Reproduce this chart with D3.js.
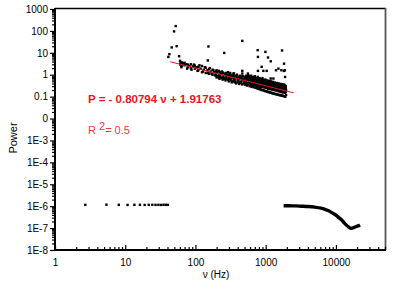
<!DOCTYPE html>
<html>
<head>
<meta charset="utf-8">
<script src="https://cdn.jsdelivr.net/npm/d3@7"></script>
<style>
  body { margin: 0; background: #fff; }
  svg text { font-family: "Liberation Sans", Arial, sans-serif; }
</style>
</head>
<body>
<div id="chart"></div>
<script>
// tick values and labels
const yTicks = [1000, 100, 10, 1, 0.1, 0.01, 1e-3, 1e-4, 1e-5, 1e-6, 1e-7, 1e-8];
const yLabels = ["1000", "100", "10", "1", "0.1", "0", "1E-3", "1E-4", "1E-5", "1E-6", "1E-7", "1E-8"];
const xTicks = [1, 10, 100, 1000, 10000];
const xLabels = ["1", "10", "100", "1000", "10000"];

// low frequency harmonics
const lowNu = [2.7, 5.4, 8.1, 10.8, 13.5, 16.2, 18.9, 21.6, 24.3, 27, 29.7, 32.4, 35.1, 37.8, 40.5];
const lowP = [1.15e-6, 1.17e-6, 1.15e-6, 1.14e-6, 1.15e-6, 1.15e-6, 1.14e-6, 1.15e-6, 1.16e-6, 1.15e-6, 1.15e-6, 1.14e-6, 1.16e-6, 1.15e-6, 1.15e-6];

// high frequency tail
const tailNu = [1800, 2200, 2700, 3200, 4000, 5000, 6100, 7000, 8000, 9000, 10000, 11000, 12000, 13000, 14000, 15000, 16000, 16800, 17500, 18500, 19500, 20500, 21500, 22050];
const tailP = [1.05e-6, 1.04e-6, 1.03e-6, 1.0e-6, 9.6e-7, 9.0e-7, 8.2e-7, 7.2e-7, 6.0e-7, 4.8e-7, 3.9e-7, 3.0e-7, 2.4e-7, 1.8e-7, 1.4e-7, 1.15e-7, 1.0e-7, 9.8e-8, 1.02e-7, 1.1e-7, 1.18e-7, 1.25e-7, 1.32e-7, 1.38e-7];

// scattered points above the band
const outNu = [52.3, 49.6, 45.9, 54.0, 42.5, 41.1, 58.5, 60.4, 64.6, 150, 153, 257, 464, 769, 991, 1710, 776, 1079, 1179, 877, 927, 776, 1033, 1825, 1518, 1403, 1868, 1675, 1888, 1179, 1288, 464, 464, 559, 349, 1825];
const outP = [166, 95, 17.6, 20.1, 8.7, 6.5, 7.0, 4.3, 3.5, 4.5, 19.5, 9.9, 35.2, 13.2, 11.0, 12.8, 6.5, 6.1, 4.1, 2.3, 1.5, 1.5, 1.5, 3.2, 1.9, 1.6, 1.6, 1.6, 0.79, 0.67, 0.67, 1.5, 1.13, 1.13, 1.13, 1.49];

// main band: [frequency, power values...]
const bandRows = [
  [61, 3.3, 2.9], [63, 2.2], [64, 3.6, 2.6], [67, 3.3], [70, 2.7, 3.5], [74, 3.0], [76, 1.9],
  [78, 2.2, 2.9], [82, 2.5], [86, 3.0, 2.0], [88, 1.7], [92, 2.4], [95, 2.9], [98, 1.9, 2.6],
  [104, 2.2], [107, 1.5], [110, 1.6, 2.3], [114, 2.7], [118, 1.9], [124, 1.3, 2.5], [128, 1.4],
  [132, 1.7], [136, 2.2], [140, 1.2, 2.1], [148, 1.6], [152, 1.2], [156, 1.1, 1.8], [160, 2.0],
  [165, 1.4], [170, 1.1], [175, 1.0, 1.7], [180, 1.6], [185, 1.3], [190, 0.95],
  [195, 0.9, 1.4, 1.1], [200, 0.75, 1.6], [205, 1.3, 0.85], [210, 0.8], [215, 1.0, 1.5, 0.75],
  [220, 0.65, 1.35], [226, 1.2, 0.9], [232, 0.75], [238, 0.7, 1.1, 1.4], [244, 0.6, 1.25],
  [250, 0.85, 1.2], [256, 0.7], [262, 1.0, 0.65], [268, 0.55, 1.1], [275, 1.2, 0.8],
  [282, 0.65, 1.0], [290, 0.6, 0.95, 1.3], [298, 0.5, 0.75], [305, 0.85, 1.1], [312, 0.65, 1.2],
  [320, 0.55, 0.9], [328, 0.45, 0.7], [336, 0.8, 1.0], [345, 0.5, 0.95], [353, 0.6, 0.75, 1.15],
  [362, 0.45, 0.65], [370, 0.85, 0.5], [380, 0.4, 0.9], [390, 0.7, 1.0], [400, 0.45, 0.6],
  [410, 0.55, 0.8], [420, 0.38, 0.75], [430, 0.65, 0.9, 0.45], [441, 0.42, 0.85],
  [452, 0.75, 0.5], [463, 0.36, 0.65], [475, 0.6, 0.85], [487, 0.4, 0.55], [500, 0.45, 0.7],
  [512, 0.35, 0.8],
  [530, 0.55, 0.4, 0.7, 0.9], [540, 0.32, 0.6], [550, 0.5, 0.62, 0.8], [565, 0.45, 0.75, 0.36, 0.95],
  [580, 0.52, 0.6, 0.85], [590, 0.3, 0.66], [600, 0.4, 0.48, 0.7, 0.78], [620, 0.55, 0.35, 0.45, 0.9],
  [630, 0.28, 0.68], [640, 0.5, 0.62, 0.4, 0.75], [660, 0.43, 0.56, 0.32, 0.8], [670, 0.27, 0.52],
  [680, 0.47, 0.38, 0.65, 0.72], [700, 0.42, 0.5, 0.34, 0.6, 0.85], [710, 0.26, 0.55],
  [720, 0.45, 0.37, 0.58, 0.7], [735, 0.25, 0.47], [745, 0.4, 0.3, 0.52, 0.65], [760, 0.24, 0.5],
  [770, 0.44, 0.35, 0.62, 0.8], [785, 0.23, 0.68], [795, 0.38, 0.48, 0.29, 0.58], [810, 0.22, 0.46],
  [820, 0.41, 0.33, 0.55, 0.7], [835, 0.22, 0.5], [845, 0.36, 0.45, 0.27, 0.6], [860, 0.21, 0.43],
  [870, 0.39, 0.32, 0.5, 0.62], [885, 0.2, 0.47], [900, 0.35, 0.43, 0.28, 0.55, 0.7], [915, 0.2, 0.4],
  [930, 0.37, 0.3, 0.48, 0.58], [945, 0.19, 0.44], [960, 0.33, 0.4, 0.26, 0.5], [975, 0.18, 0.38],
  [990, 0.35, 0.29, 0.45, 0.6], [1005, 0.18, 0.41], [1020, 0.31, 0.38, 0.25, 0.48], [1035, 0.17, 0.36],
  [1050, 0.34, 0.27, 0.42, 0.55], [1070, 0.17, 0.39], [1085, 0.3, 0.36, 0.23, 0.46], [1100, 0.16, 0.34],
  [1120, 0.32, 0.26, 0.4, 0.52], [1140, 0.16, 0.37], [1155, 0.28, 0.34, 0.22, 0.44], [1170, 0.15, 0.32],
  [1190, 0.3, 0.25, 0.37, 0.5], [1210, 0.15, 0.35], [1230, 0.27, 0.32, 0.21, 0.42], [1250, 0.14, 0.31],
  [1270, 0.29, 0.23, 0.35, 0.47], [1290, 0.14, 0.33], [1310, 0.25, 0.3, 0.2, 0.4], [1330, 0.135, 0.29],
  [1350, 0.27, 0.22, 0.33, 0.44], [1370, 0.13, 0.31], [1395, 0.24, 0.29, 0.19, 0.38], [1415, 0.13, 0.27],
  [1440, 0.26, 0.21, 0.32, 0.42], [1460, 0.125, 0.3], [1485, 0.23, 0.28, 0.18, 0.37], [1510, 0.12, 0.26],
  [1530, 0.25, 0.2, 0.3, 0.4], [1555, 0.12, 0.28], [1580, 0.22, 0.27, 0.17, 0.35], [1605, 0.115, 0.25],
  [1630, 0.24, 0.19, 0.29, 0.38], [1655, 0.115, 0.27], [1680, 0.21, 0.26, 0.16, 0.34], [1705, 0.11, 0.24],
  [1730, 0.23, 0.18, 0.28, 0.37], [1755, 0.11, 0.26], [1780, 0.2, 0.25, 0.155, 0.33], [1805, 0.105, 0.23],
  [1830, 0.22, 0.17, 0.27, 0.36], [1855, 0.105, 0.25], [1880, 0.19, 0.24, 0.15, 0.32], [1905, 0.1, 0.22],
  [1930, 0.21, 0.165, 0.26, 0.3], [1950, 0.12, 0.2]
];

// linear fit in log-log space
const fitSlope = -0.80794;
const fitIntercept = 1.91763;
const fitNu = [44, 2500];

const svgwidth = 416;
const svgheight = 295;
var margin = {top: 9, right: 31, bottom: 45, left: 55};

var svg = d3.select("#chart")
  .append("svg")
  .attr("width", svgwidth)
  .attr("height", svgheight);

var x = d3.scaleLog()
  .domain([1, 50000])
  .range([margin.left, svgwidth - margin.right]);
var y = d3.scaleLog()
  .domain([1e-8, 1000])
  .range([svgheight - margin.bottom, margin.top]);

// minor tick positions (2..9 per decade)
var minorX = [], minorY = [];
for (var e = 0; e < 5; e++) {
  for (var k = 2; k < 10; k++) {
    var v = k * Math.pow(10, e);
    if (v <= 50000) minorX.push(v);
  }
}
for (var e = -8; e < 3; e++) {
  for (var k = 2; k < 10; k++) minorY.push(k * Math.pow(10, e));
}

var x0 = margin.left, x1 = svgwidth - margin.right;
var y0 = svgheight - margin.bottom, y1 = margin.top;

// frame top and right
svg.append("line").attr("x1", x0).attr("x2", x1 + 1).attr("y1", y1 - 0.5).attr("y2", y1 - 0.5)
  .attr("stroke", "#000").attr("stroke-width", 1.6);
svg.append("line").attr("x1", x1 + 0.5).attr("x2", x1 + 0.5).attr("y1", y1 - 1).attr("y2", y0)
  .attr("stroke", "#555").attr("stroke-width", 1.8);

// y axis
var gy = svg.append("g").attr("transform", `translate(${x0},0)`);
gy.call(d3.axisLeft(y).tickValues(minorY).tickSize(3).tickFormat(""));
gy.append("g").call(d3.axisLeft(y).tickValues(yTicks).tickSize(5).tickPadding(2)
  .tickFormat((d, i) => yLabels[i]));
gy.selectAll(".domain").remove();
gy.selectAll("line").attr("stroke", "#000").attr("stroke-width", 1.2);
gy.selectAll("text").attr("font-size", 10).attr("fill", "#000")
  .attr("font-family", "'Liberation Sans', Arial, sans-serif");

// x axis
var gx = svg.append("g").attr("transform", `translate(0,${y0})`);
gx.call(d3.axisBottom(x).tickValues(minorX).tickSize(-3).tickFormat(""));
gx.append("g").call(d3.axisBottom(x).tickValues(xTicks).tickSize(-5).tickPadding(9)
  .tickFormat((d, i) => xLabels[i]));
gx.selectAll(".domain").remove();
gx.selectAll("line").attr("stroke", "#000").attr("stroke-width", 1.2);
gx.selectAll("text").attr("font-size", 10).attr("fill", "#000")
  .attr("font-family", "'Liberation Sans', Arial, sans-serif");

// axis lines
svg.append("line").attr("x1", x0).attr("x2", x0).attr("y1", y1 - 1).attr("y2", y0 + 1)
  .attr("stroke", "#000").attr("stroke-width", 2);
svg.append("line").attr("x1", x0 - 1).attr("x2", x1 + 1).attr("y1", y0).attr("y2", y0)
  .attr("stroke", "#000").attr("stroke-width", 2);

// axis titles
svg.append("text")
  .attr("transform", `translate(17,138) rotate(-90)`)
  .attr("text-anchor", "middle")
  .attr("font-size", 11)
  .text("Power");
svg.append("text")
  .attr("x", 216).attr("y", 278)
  .attr("text-anchor", "middle")
  .attr("font-size", 10)
  .text("ν (Hz)");

// points
var pts = [];
lowNu.forEach((d, i) => pts.push([d, lowP[i]]));
outNu.forEach((d, i) => pts.push([d, outP[i]]));
bandRows.forEach(r => r.slice(1).forEach(p => pts.push([r[0], p])));

var s = 2.4;
svg.append("g").selectAll("rect")
  .data(pts)
  .enter()
  .append("rect")
  .attr("x", d => x(d[0]) - s / 2)
  .attr("y", d => y(d[1]) - s / 2)
  .attr("width", s)
  .attr("height", s)
  .attr("fill", "#000");

// high frequency tail
svg.append("path")
  .datum(tailNu.map((d, i) => [d, tailP[i]]))
  .attr("fill", "none")
  .attr("stroke", "#000")
  .attr("stroke-width", 3.4)
  .attr("stroke-linejoin", "round")
  .attr("d", d3.line().x(d => x(d[0])).y(d => y(d[1])).curve(d3.curveMonotoneX));

// fit line
svg.append("path")
  .datum(fitNu.map(n => [n, Math.pow(10, fitIntercept + fitSlope * Math.log10(n))]))
  .attr("fill", "none")
  .attr("stroke", "#e8141c")
  .attr("stroke-width", 1)
  .attr("d", d3.line().x(d => x(d[0])).y(d => y(d[1])));

// annotations
svg.append("text")
  .attr("x", 88).attr("y", 103)
  .attr("font-size", 11.5)
  .attr("font-weight", "bold")
  .attr("fill", "#e8141c")
  .text("P = - 0.80794 ν + 1.91763");

var r2 = svg.append("text")
  .attr("x", 88).attr("y", 134)
  .attr("font-size", 11)
  .attr("fill", "#f0383c");
r2.append("tspan").text("R ");
r2.append("tspan").attr("dy", -4).text("2");
r2.append("tspan").attr("dy", 4).text("= 0.5");
</script>
</body>
</html>
